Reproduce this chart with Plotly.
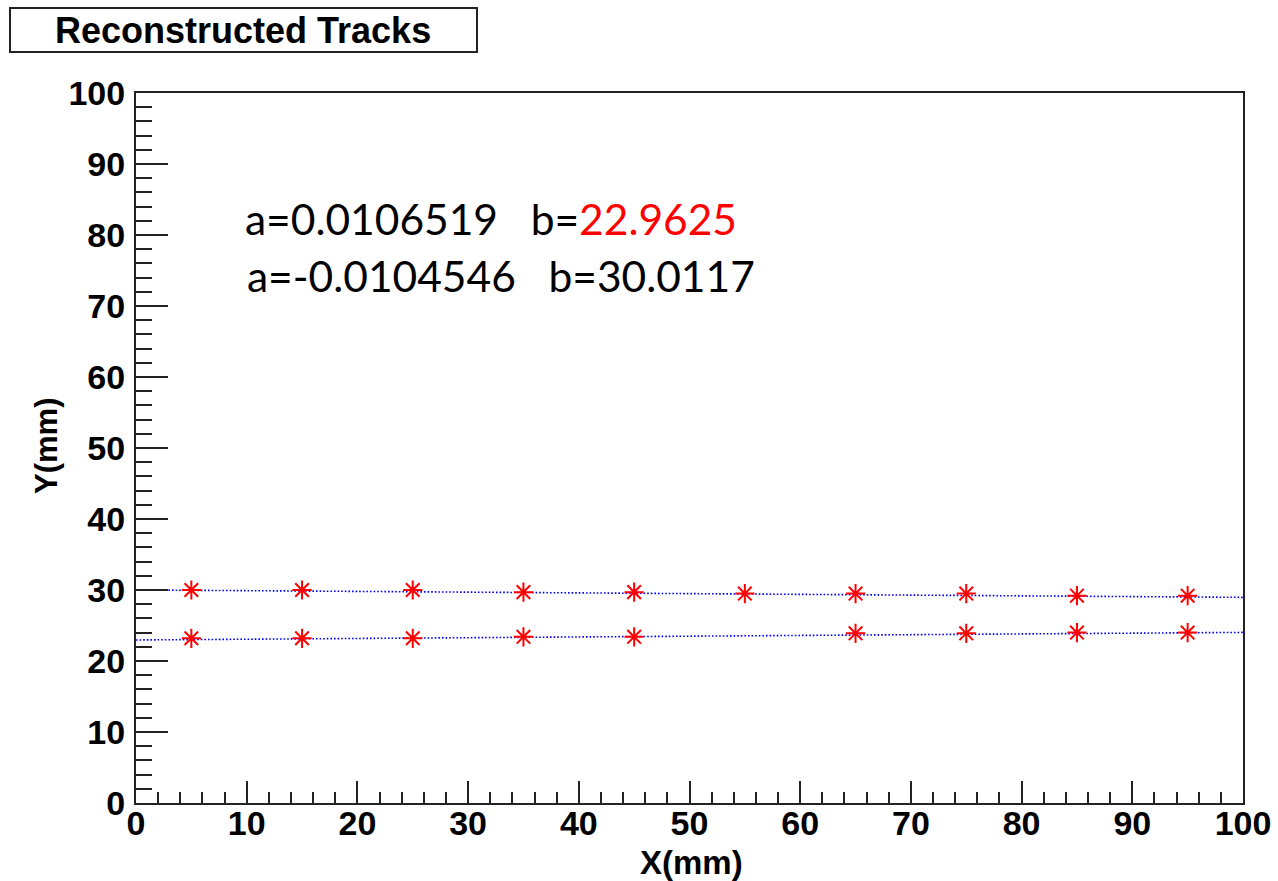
import plotly.graph_objects as go

# ---- data ----
x_top = [5, 15, 25, 35, 45, 55, 65, 75, 85, 95]
y_top = [30.0, 30.0, 30.0, 29.7, 29.7, 29.5, 29.5, 29.5, 29.2, 29.2]
x_low = [5, 15, 25, 35, 45, 65, 75, 85, 95]
y_low = [23.2, 23.2, 23.2, 23.4, 23.4, 23.9, 23.9, 24.0, 24.0]

fit_a = [0.0106519, -0.0104546]
fit_b = [22.9625, 30.0117]
fit_x = [0, 100]

x_ticks = [0, 10, 20, 30, 40, 50, 60, 70, 80, 90, 100]
y_ticks = [0, 10, 20, 30, 40, 50, 60, 70, 80, 90, 100]

W, H = 1278, 881
L, R, T, B = 136, 1243, 93, 803


def px(xp):
    return (xp - L) / (R - L)


def py(yp):
    return (B - yp) / (B - T)


fig = go.Figure()

for a, b in zip(fit_a, fit_b):
    fig.add_trace(go.Scatter(
        x=fit_x, y=[a * xv + b for xv in fit_x], mode="lines",
        line=dict(color="blue", width=1.6, dash="1.6px,2px"),
        showlegend=False, hoverinfo="skip"))

for xs, ys in [(x_top, y_top), (x_low, y_low)]:
    fig.add_trace(go.Scatter(
        x=xs, y=ys, mode="markers",
        marker=dict(symbol="asterisk-open", size=16, color="red",
                    line=dict(color="red", width=2)),
        showlegend=False))

tickfont = dict(family="Liberation Sans, Arial", size=34, color="black", weight=700)

fig.update_xaxes(
    range=[0, 100], tickvals=x_ticks, ticktext=[str(v) for v in x_ticks],
    ticks="inside", ticklen=22, tickwidth=1.5, tickcolor="#222",
    minor=dict(dtick=2, ticks="inside", ticklen=11, tickwidth=1.5, tickcolor="#222"),
    showgrid=False, zeroline=False, showline=True, linecolor="#222", linewidth=2,
    mirror=True, tickfont=tickfont, ticklabelstandoff=-11, automargin=False)
fig.update_yaxes(
    range=[0, 100], tickvals=y_ticks, ticktext=[str(v) for v in y_ticks],
    ticks="inside", ticklen=32, tickwidth=1.5, tickcolor="#222",
    minor=dict(dtick=2, ticks="inside", ticklen=16, tickwidth=1.5, tickcolor="#222"),
    showgrid=False, zeroline=False, showline=True, linecolor="#222", linewidth=2,
    mirror=True, tickfont=tickfont, ticklabelstandoff=2, automargin=False)

# title box
fig.add_shape(type="rect", xref="paper", yref="paper",
              x0=px(10), x1=px(477), y0=py(52), y1=py(8),
              line=dict(color="#222", width=2), fillcolor="white")
fig.add_annotation(xref="paper", yref="paper", x=px(243), y=py(31),
                   text="Reconstructed Tracks", showarrow=False,
                   xanchor="center", yanchor="middle",
                   font=dict(family="Liberation Sans, Arial", size=36, color="black", weight=700))

# fit result texts
fig.add_annotation(xref="paper", yref="paper", x=px(243), y=py(218),
                   text="a=0.0106519   b=<span style='color:red'>22.9625</span>",
                   showarrow=False, xanchor="left", yanchor="middle",
                   font=dict(family="Lato", size=42.5, color="black"))
fig.add_annotation(xref="paper", yref="paper", x=px(245), y=py(275),
                   text="a=-0.0104546   b=30.0117",
                   showarrow=False, xanchor="left", yanchor="middle",
                   font=dict(family="Lato", size=42.5, color="black"))

# axis titles
fig.add_annotation(xref="paper", yref="paper", x=px(691), y=py(862),
                   text="X(mm)", showarrow=False, xanchor="center", yanchor="middle",
                   font=dict(family="Liberation Sans, Arial", size=33, color="black", weight=700))
fig.add_annotation(xref="paper", yref="paper", x=px(46), y=py(446),
                   text="Y(mm)", showarrow=False, xanchor="center", yanchor="middle",
                   textangle=-90,
                   font=dict(family="Liberation Sans, Arial", size=31, color="black", weight=700))

fig.update_layout(
    width=W, height=H,
    margin=dict(l=L, r=W - R, t=T, b=H - B, pad=0, autoexpand=False),
    paper_bgcolor="white", plot_bgcolor="white",
)

fig.write_html("out.html")
